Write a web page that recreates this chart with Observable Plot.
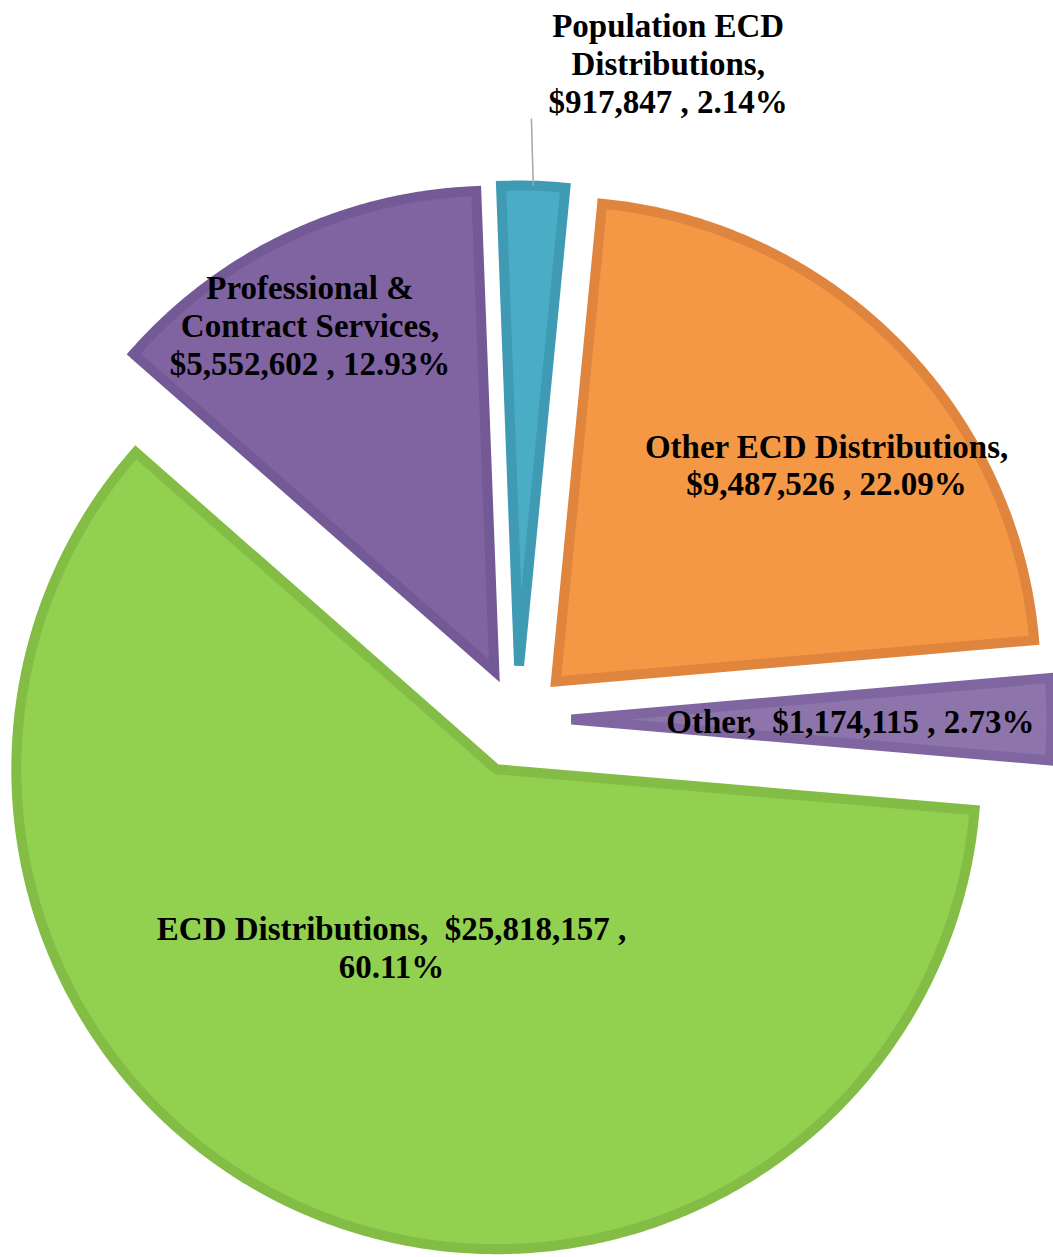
<!DOCTYPE html>
<html>
<head>
<meta charset="utf-8">
<script src="https://cdn.jsdelivr.net/npm/d3@7"></script>
<script src="https://cdn.jsdelivr.net/npm/@observablehq/plot@0.6"></script>
<style>
  html, body { margin: 0; padding: 0; background: #fff; overflow: hidden; }
</style>
</head>
<body>
<div id="chart"></div>
<script>
// ---- data ----
const categories = ["ECD Distributions", "Professional & Contract Services", "Population ECD Distributions", "Other ECD Distributions", "Other"];
const amounts = [25818157, 5552602, 917847, 9487526, 1174115];
const percents = [60.11, 12.93, 2.14, 22.09, 2.73];
const labelTexts = [
  "ECD Distributions,  $25,818,157 ,\n60.11%",
  "Professional &\nContract Services,\n$5,552,602 , 12.93%",
  "Population ECD\nDistributions,\n$917,847 , 2.14%",
  "Other ECD Distributions,\n$9,487,526 , 22.09%",
  "Other,  $1,174,115 , 2.73%"
];

// ---- styles / layout ----
const fills   = ["#92D050", "#8064A2", "#4BACC6", "#F59846", "#8D74AB"];
const borders = ["#83BD46", "#735996", "#3F9AB4", "#E0853D", "#7F66A0"];
const labelR    = [0.429, 0.817, 1.294, 0.723, 0.581];  // label distance (radius units)
const labelTurn = [7.5, -2.6, 12.2, 5.96, 0.4];          // degrees from bisector

const W = 1053, H = 1257, cx = 517, cy = 719, R = 480;
const explode = 54 / R;
const startDeg = 94.9;
const rad = Math.PI / 180;

const arcs = d3.pie().sort(null).value(d => d)
  .startAngle(startDeg * rad).endAngle(startDeg * rad + 2 * Math.PI)(amounts);

const slices = arcs.map((p, i) => {
  const mid = (p.startAngle + p.endAngle) / 2;
  const ox = explode * Math.sin(mid), oy = explode * Math.cos(mid);
  const pts = [{x: ox, y: oy}];
  const n = Math.max(4, Math.ceil((p.endAngle - p.startAngle) / rad * 2));
  for (let k = 0; k <= n; k++) {
    const a = p.startAngle + (p.endAngle - p.startAngle) * k / n;
    pts.push({x: ox + Math.sin(a), y: oy + Math.cos(a)});
  }
  pts.push({x: ox, y: oy});
  pts.push(pts[1]);
  const la = mid + labelTurn[i] * rad;
  return {
    i, mid, ox, oy, pts,
    label: {x: ox + labelR[i] * Math.sin(la), y: oy + labelR[i] * Math.cos(la), text: labelTexts[i], name: categories[i], pct: percents[i]}
  };
});

// leader line for the small Population slice
const pop = slices[2];
const leader = [{
  x1: pop.ox + 1.14 * Math.sin(pop.mid - 0.4 * rad), y1: pop.oy + 1.14 * Math.cos(pop.mid - 0.4 * rad),
  x2: pop.ox + 1.0 * Math.sin(pop.mid), y2: pop.oy + 1.0 * Math.cos(pop.mid)
}];

const chart = Plot.plot({
  width: W,
  height: H,
  margin: 0,
  x: {domain: [-cx / R, (W - cx) / R], axis: null},
  y: {domain: [-(H - cy) / R, cy / R], axis: null},
  style: {background: "#fff"},
  marks: [
    ...slices.map(s => Plot.line(s.pts, {
      x: "x", y: "y", curve: "linear",
      fill: fills[s.i], stroke: borders[s.i], strokeWidth: 10,
      strokeLinejoin: "miter", strokeMiterlimit: 4, strokeLinecap: "butt", clip: "frame"
    })),
    Plot.link(leader, {x1: "x1", y1: "y1", x2: "x2", y2: "y2", stroke: "#A6A6A6", strokeWidth: 1.5}),
    Plot.text(slices.map(s => s.label), {
      x: "x", y: "y", text: "text",
      fontSize: 33, fontWeight: "bold",
      fontFamily: "'Liberation Serif', 'Times New Roman', serif",
      lineHeight: 1.15, textAnchor: "middle", fill: "#000"
    })
  ]
});
document.getElementById("chart").appendChild(chart);
</script>
</body>
</html>
